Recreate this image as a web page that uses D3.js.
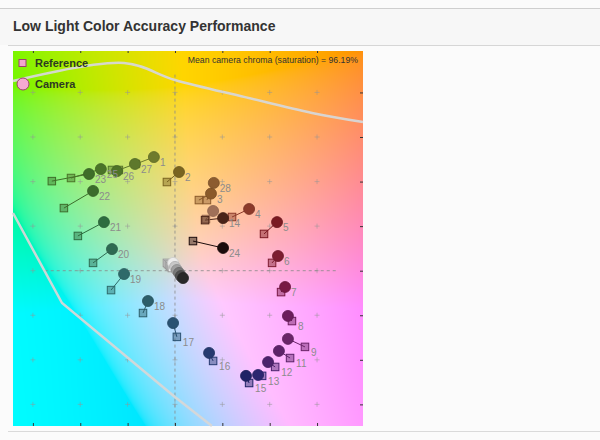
<!DOCTYPE html>
<html><head><meta charset="utf-8">
<script src="https://cdn.jsdelivr.net/npm/d3@7"></script>
<style>
body{margin:0;background:#fbfbfb;font-family:"Liberation Sans",Arial,sans-serif;}
svg{display:block;}
</style></head><body>
<svg id="chart" width="600" height="440"></svg>
<script>
// ---- data (CIE a*, b* coordinates) ----
const patchLabels = ["1","2","3","28","4","5","6","7","8","9","","11","12","13","14","15","16","17","18","19","20","21","22","23","24","25","26","27"];
const refA = [-16.5,-3.4,10.1,13.5,24.1,37.6,41.0,44.8,49.4,54.9,13.1,48.6,42.3,36.8,12.7,31.3,16.1,0.8,-13.5,-27.0,-34.6,-41.0,-46.9,-52.0,7.6,-43.9,-26.6,-23.7];
const refB = [47.9,39.8,31.7,31.7,24.1,16.5,3.5,-9.6,-22.6,-34.2,23.2,-39.2,-43.2,-47.2,22.7,-50.4,-40.5,-29.7,-19.0,-8.7,3.5,15.6,28.1,40.2,13.3,41.6,45.2,45.2];
const camA = [-8.9,1.7,15.2,16.4,31.3,43.1,43.5,46.5,47.7,47.7,16.1,43.9,39.3,35.1,20.3,30.0,14.4,-0.8,-11.4,-21.5,-26.6,-30.0,-34.6,-36.3,20.3,-31.3,-24.5,-16.9];
const camB = [51.0,44.3,34.6,39.4,27.7,21.8,6.6,-7.3,-20.3,-30.6,26.8,-36.0,-41.0,-46.8,23.6,-47.2,-36.9,-23.5,-13.6,-1.5,9.7,21.8,35.8,43.4,10.2,45.6,44.7,47.9];
const patchColors = ["#6f7a2c","#7a6420","#8a5a2a","#8c5c30","#8c3a2a","#7a1a22","#7c1c30","#781844","#6c1c5c","#6a2468","#a07058","#5c2268","#4c226c","#2c2670","#4a2418","#1e2266","#263a70","#2a5272","#2c5e6a","#2e6a6a","#2e6a52","#2e6c40","#3c6c2c","#3e6e28","#1c0c0c","#4a7428","#4e7428","#5e782c"];
// neutral (grey) patches, unlabeled
const neutralRefA = [-3.4,-3.0,-2.5,-2.1,-1.7,-1.3];
const neutralRefB = [3.5,3.0,2.6,2.1,1.7,1.2];
const neutralCamA = [-0.8,0.0,0.8,1.7,2.5,3.4];
const neutralCamB = [3.5,1.7,0.3,-1.0,-2.4,-3.3];
const neutralColors = ["#ececec","#c8c8c8","#a0a0a0","#787878","#505050","#282828"];
// gamut boundary curves
const gamutTopA = [-68.4,-21.5,0,29.6,57.9,79.4];
const gamutTopB = [85.1,93.2,85.6,77.9,70.8,66.7];
const gamutLowA = [-68.4,-47.7,0,15.6];
const gamutLowB = [25.9,-14.5,-56.7,-69.7];
// grid / ticks
const gridA = [-60,-40,-20,0,20,40,60];
const gridB = [-60,-40,-20,0,20,40,60,80];
const titleText = "Low Light Color Accuracy Performance";
const chromaText = "Mean camera chroma (saturation) = 96.19%";
const legendItems = ["Reference","Camera"];

// ---- layout ----
const svg = d3.select("#chart");
const P = {l:13, r:363, t:51, b:426};
const x = d3.scaleLinear().domain([-68.4,79.4]).range([P.l,P.r]);
const y = d3.scaleLinear().domain([-69.7,98.6]).range([P.b,P.t]);

// header
svg.append("rect").attr("x",0).attr("y",8).attr("width",600).attr("height",37).attr("fill","#f7f7f7");
svg.append("line").attr("x1",0).attr("x2",600).attr("y1",8.5).attr("y2",8.5).attr("stroke","#cfcfcf");
svg.append("line").attr("x1",8).attr("x2",600).attr("y1",45.5).attr("y2",45.5).attr("stroke","#d6d6d6");
svg.append("line").attr("x1",8).attr("x2",600).attr("y1",431.5).attr("y2",431.5).attr("stroke","#dadada");
svg.append("text").attr("x",13).attr("y",31).attr("font-size",14).attr("font-weight","bold")
  .attr("fill","#333").text(titleText);

// background a*b* plane
const W = P.r-P.l, H = P.b-P.t;
const cv = document.createElement("canvas"); cv.width=W; cv.height=H;
const ctx = cv.getContext("2d"); const img = ctx.createImageData(W,H);
const cl = v => Math.max(0,Math.min(255,Math.round(v)));
for(let j=0;j<H;j++){ const bb = y.invert(P.t+j+0.5);
  for(let i=0;i<W;i++){ const aa = x.invert(P.l+i+0.5);
    const C = Math.hypot(aa,bb), s = C>0 ? Math.pow(C/100,0.8)*100/C : 1;
    const c = d3.lab(87, aa*s*(aa<0?0.92:1), bb*s).rgb(); const k=(j*W+i)*4;
    img.data[k]=cl(c.r); img.data[k+1]=cl(c.g); img.data[k+2]=cl(c.b); img.data[k+3]=255; } }
ctx.putImageData(img,0,0);
svg.append("image").attr("x",P.l).attr("y",P.t).attr("width",W).attr("height",H)
  .attr("preserveAspectRatio","none").attr("href",cv.toDataURL());

const plot = svg.append("g");
// grid plus marks
const plus = "rgba(150,150,150,0.5)";
gridA.forEach(a=>gridB.forEach(b=>{
  if(a===0||b===0) return;
  plot.append("path").attr("d",`M${x(a)-2.5},${y(b)}h5M${x(a)},${y(b)-2.5}v5`).attr("stroke",plus);
}));
gridA.filter(a=>a!==0).forEach(a=>plot.append("path").attr("d",`M${x(a)-2.5},${y(0)}h5M${x(a)},${y(0)-2.5}v5`).attr("stroke",plus));
gridB.filter(b=>b!==0).forEach(b=>plot.append("path").attr("d",`M${x(0)-2.5},${y(b)}h5M${x(0)},${y(b)-2.5}v5`).attr("stroke",plus));
// dashed axes
plot.append("line").attr("x1",x(0)).attr("x2",x(0)).attr("y1",y(88)).attr("y2",y(-69.7))
  .attr("stroke","#888").attr("stroke-dasharray","3,3").attr("stroke-width",0.8);
plot.append("line").attr("x1",x(-55)).attr("x2",x(69)).attr("y1",y(0)).attr("y2",y(0))
  .attr("stroke","#888").attr("stroke-dasharray","3,3").attr("stroke-width",0.8);

// frame ticks
const tk = "#333";
svg.append("g").attr("transform",`translate(0,${P.t})`).call(d3.axisBottom(x).tickValues(gridA).tickSize(2).tickFormat(""))
  .call(g=>g.select(".domain").remove()).selectAll("line").attr("stroke",tk);
svg.append("g").attr("transform",`translate(0,${P.b})`).call(d3.axisTop(x).tickValues(gridA).tickSize(3).tickFormat(""))
  .call(g=>g.select(".domain").remove()).selectAll("line").attr("stroke",tk);
svg.append("g").attr("transform",`translate(${P.r},0)`).call(d3.axisLeft(y).tickValues(gridB).tickSize(3).tickFormat(""))
  .call(g=>g.select(".domain").remove()).selectAll("line").attr("stroke",tk);

// gamut curves
const gt = gamutTopA.map((a,i)=>[x(a),y(gamutTopB[i])]);
const gl = gamutLowA.map((a,i)=>[x(a),y(gamutLowB[i])]);
plot.append("path").attr("d",d3.line().curve(d3.curveCatmullRom)(gt)).attr("fill","none").attr("stroke","rgba(215,215,215,0.95)").attr("stroke-width",2.5);
plot.append("path").attr("d",d3.line()(gl)).attr("fill","none").attr("stroke","rgba(215,215,215,0.95)").attr("stroke-width",2.5);

// patches
const patches = patchLabels.map((l,i)=>({l, ra:refA[i], rb:refB[i], ca:camA[i], cb:camB[i], c:patchColors[i], n:false}));
const neutrals = neutralColors.map((c,i)=>({l:"", ra:neutralRefA[i], rb:neutralRefB[i], ca:neutralCamA[i], cb:neutralCamB[i], c, n:true}));
const all = patches.concat(neutrals);
const sq = 7.5, rr = 5.5;
const gL = plot.append("g"), gS = plot.append("g"), gC = plot.append("g"), gT = plot.append("g");
gL.selectAll("line").data(all).join("line")
  .attr("x1",d=>x(d.ra)).attr("y1",d=>y(d.rb)).attr("x2",d=>x(d.ca)).attr("y2",d=>y(d.cb))
  .attr("stroke",d=>d.c).attr("stroke-width",1);
gS.selectAll("rect").data(all).join("rect")
  .attr("x",d=>x(d.ra)-sq/2).attr("y",d=>y(d.rb)-sq/2).attr("width",sq).attr("height",sq)
  .attr("fill",d=>d.n?"#f4f4f4":d.c).attr("fill-opacity",d=>d.n?0.9:0.45)
  .attr("stroke",d=>d.n?"#999":d.c).attr("stroke-width",1);
gC.selectAll("circle").data(all).join("circle")
  .attr("cx",d=>x(d.ca)).attr("cy",d=>y(d.cb)).attr("r",rr)
  .attr("fill",d=>d.c).attr("stroke",d=>d3.color(d.c).darker(0.4)).attr("stroke-width",0.8);
gT.selectAll("text").data(patches).join("text")
  .attr("x",d=>Math.max(x(d.ra),x(d.ca))+6)
  .attr("y",d=>(x(d.ra)>x(d.ca)?y(d.rb):y(d.cb))+9)
  .attr("font-size",10).attr("fill","#8c8c8c").text(d=>d.l);

// legend
svg.append("rect").attr("x",19).attr("y",59.5).attr("width",7).attr("height",7)
  .attr("fill","#f2a6cc").attr("stroke","#9c3f6e").attr("stroke-width",1);
svg.append("circle").attr("cx",23).attr("cy",84).attr("r",6)
  .attr("fill","#f5a9d2").attr("stroke","#9c3f6e").attr("stroke-width",1);
svg.selectAll(".lg").data(legendItems).join("text").attr("class","lg")
  .attr("x",35).attr("y",(d,i)=>67+i*21).attr("font-size",11).attr("font-weight","bold")
  .attr("fill","#2d3a22").text(d=>d);
svg.append("text").attr("x",358).attr("y",63).attr("text-anchor","end")
  .attr("font-size",8.7).attr("fill","#333").text(chromaText);
</script>
</body></html>
